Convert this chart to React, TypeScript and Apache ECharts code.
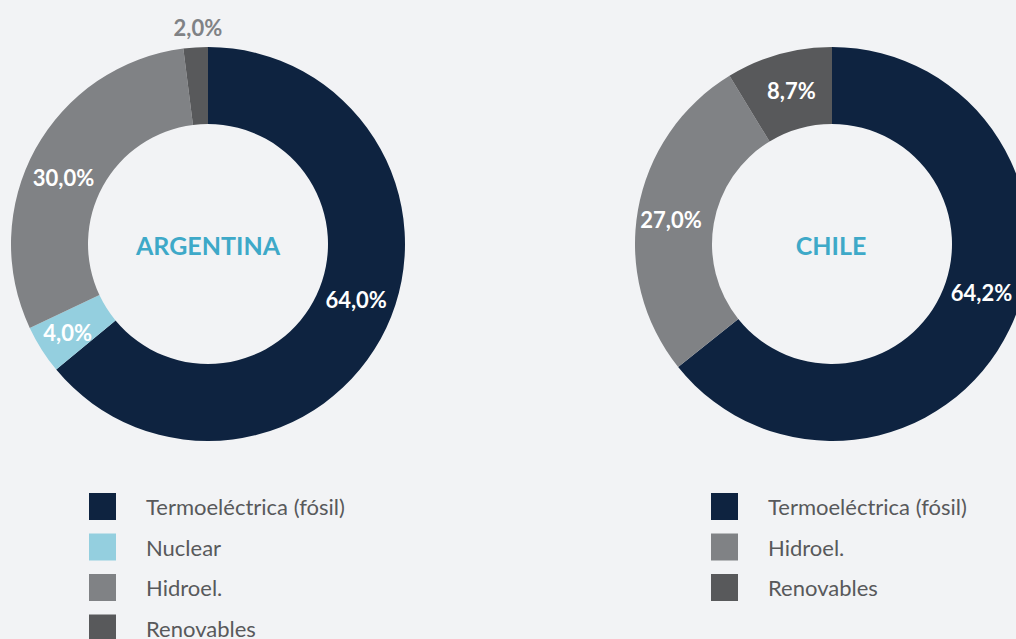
import React, { useEffect, useRef } from "react";
import * as echarts from "echarts";

const categoriesArg = ["Termoeléctrica (fósil)", "Nuclear", "Hidroel.", "Renovables"];
const valuesArg = [64.0, 4.0, 30.0, 2.0];
const colorsArg = ["#0e2340", "#94cfdf", "#808285", "#58595b"];
const labelShiftArg = [[2, -13], [-4, 2], [-3, 11], [0, -55]];

const categoriesChile = ["Termoeléctrica (fósil)", "Hidroel.", "Renovables"];
const valuesChile = [64.2, 27.0, 8.7];
const colorsChile = ["#0e2340", "#808285", "#58595b"];
const labelShiftChile = [[4, -21], [-2, 4], [3, 2]];

const countryNames = ["ARGENTINA", "CHILE"];

const fmt = (v: number) => v.toFixed(1).replace(".", ",") + "%";

export default function App() {
  const ref = useRef<HTMLDivElement>(null);
  useEffect(() => {
    document.body.style.margin = "0";
    const chart = echarts.init(ref.current!, null, { renderer: "svg" });
    const font = "Lato, 'Noto Sans', sans-serif";
    const makeData = (cats: string[], vals: number[], cols: string[]) =>
      cats.map((c, i) => ({ name: c, value: vals[i], itemStyle: { color: cols[i] } }));
    const labelBase = {
      show: true,
      position: "inside",
      formatter: (p: any) => fmt(p.value),
      color: "#ffffff",
      fontFamily: font,
      fontWeight: "bold",
      fontSize: 22,
    };
    const legendBase = {
      orient: "vertical",
      itemWidth: 27,
      itemHeight: 27,
      itemGap: 13.5,
      height: 300,
      icon: "rect",
      selectedMode: false,
      textStyle: {
        fontFamily: font,
        fontSize: 22,
        color: "#58595b",
        padding: [0, 0, 0, 25],
      },
    };
    const centerText = (text: string, x: number) => ({
      type: "text",
      x,
      y: 245,
      style: {
        text,
        fill: "#3ea9c8",
        font: `bold 25px ${font}`,
        textAlign: "center",
        textVerticalAlign: "middle",
      },
    });
    const shiftLayout = (shifts: number[][]) => (p: any) => {
      const s = shifts[p.dataIndex];
      return s ? { dx: s[0], dy: s[1] } : {};
    };
    chart.setOption({
      animation: false,
      backgroundColor: "#f2f3f5",
      legend: [
        { ...legendBase, left: 84, top: 488, data: categoriesArg },
        { ...legendBase, left: 706, top: 488, data: categoriesChile },
      ],
      graphic: [centerText(countryNames[0], 208), centerText(countryNames[1], 831)],
      series: [
        {
          type: "pie",
          center: [208, 244],
          radius: [120, 197],
          startAngle: 90,
          clockwise: true,
          silent: true,
          label: labelBase,
          labelLine: { show: false },
          labelLayout: shiftLayout(labelShiftArg),
          data: makeData(categoriesArg, valuesArg, colorsArg).map((d, i) =>
            i === 3 ? { ...d, label: { color: "#808285" } } : d
          ),
        },
        {
          type: "pie",
          center: [832, 244],
          radius: [120, 197],
          startAngle: 90,
          clockwise: true,
          silent: true,
          label: labelBase,
          labelLine: { show: false },
          labelLayout: shiftLayout(labelShiftChile),
          data: makeData(categoriesChile, valuesChile, colorsChile),
        },
      ],
    });
    return () => chart.dispose();
  }, []);
  return <div ref={ref} style={{ width: 1016, height: 639 }} />;
}
